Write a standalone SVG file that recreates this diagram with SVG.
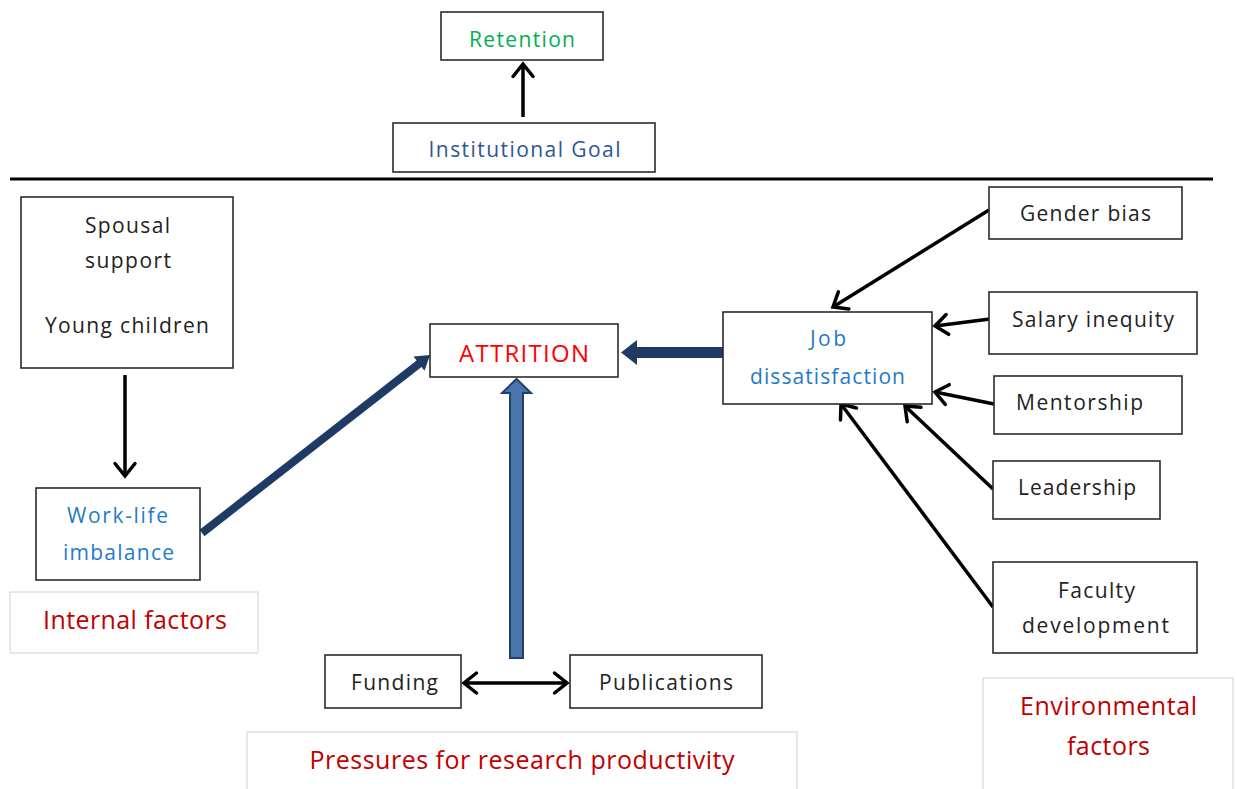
<svg xmlns="http://www.w3.org/2000/svg" width="1237" height="789" viewBox="0 0 1237 789">
<style>
  .box{fill:#fff;stroke:#2b2b2b;stroke-width:1.6}
  .lbl{fill:#fff;stroke:#d9d9d9;stroke-width:1.2}
  text{font-family:"Open Sans","Noto Sans","Liberation Sans",sans-serif;text-anchor:middle;font-weight:500}
  .t{font-size:21px;fill:#222}
  .blue{font-size:21px;fill:#1f7bc8}
  .red{font-size:25px;fill:#c00000}
  .conn{stroke:#000;stroke-width:3.5;fill:none;marker-end:url(#open)}
</style>
<defs>
  <marker id="open" markerUnits="userSpaceOnUse" markerWidth="26" markerHeight="28" refX="16" refY="13" orient="auto-start-reverse">
    <path d="M3.5,3 L16,13 L3.5,23" fill="none" stroke="#000" stroke-width="3.5" stroke-linecap="round" stroke-linejoin="miter"/>
  </marker>
</defs>

<line x1="10" y1="179" x2="1213" y2="179" stroke="#000" stroke-width="3"/>

<g id="connectors">
  <line class="conn" x1="523" y1="117" x2="523" y2="64"/>
  <line class="conn" x1="125" y1="375" x2="125" y2="476"/>
  <line class="conn" x1="464" y1="683" x2="567" y2="683" marker-start="url(#open)"/>
  <line class="conn" x1="989" y1="210" x2="833" y2="307"/>
  <line class="conn" x1="990" y1="319" x2="935" y2="326"/>
  <line class="conn" x1="994" y1="404" x2="935" y2="392"/>
  <line class="conn" x1="993" y1="489" x2="905" y2="406"/>
  <line class="conn" x1="993" y1="607" x2="841" y2="404"/>
  <polygon points="723,347 637,347 637,340 621,352.5 637,365 637,358 723,358" fill="#1f3a63"/>
  <line x1="202" y1="533" x2="420" y2="363" stroke="#1f3a63" stroke-width="8"/>
  <polygon points="430,355 424.5,370.7 413.5,356.5" fill="#1f3a63"/>
  <polygon points="510,658 510,393 502,393 516.5,379 531,393 523,393 523,658" fill="#4a74ac" stroke="#23406a" stroke-width="2"/>
</g>

<g id="retention">
  <rect class="box" x="441" y="12" width="162" height="48"/>
  <text x="522" y="47" style="font-size:21px;fill:#00b050" textLength="106" lengthAdjust="spacing">Retention</text>
</g>
<g id="institutional-goal">
  <rect class="box" x="393" y="123" width="262" height="49"/>
  <text x="524.5" y="157" style="font-size:21px;fill:#2f5597" textLength="192" lengthAdjust="spacing">Institutional Goal</text>
</g>

<g id="spousal">
  <rect class="box" x="21" y="197" width="212" height="171"/>
  <text class="t" x="127.5" y="233" textLength="85" lengthAdjust="spacing">Spousal</text>
  <text class="t" x="128" y="268" textLength="86" lengthAdjust="spacing">support</text>
  <text class="t" x="127" y="333" textLength="164" lengthAdjust="spacing">Young children</text>
</g>
<g id="work-life">
  <rect class="box" x="36" y="488" width="164" height="92"/>
  <text class="blue" x="117.5" y="523" textLength="101" lengthAdjust="spacing">Work-life</text>
  <text class="blue" x="118.5" y="560" textLength="111" lengthAdjust="spacing">imbalance</text>
</g>
<g id="internal-factors">
  <rect class="lbl" x="10" y="592" width="248" height="61"/>
  <text class="red" x="135" y="629" textLength="184" lengthAdjust="spacing">Internal factors</text>
</g>

<g id="attrition">
  <rect class="box" x="430" y="324" width="188" height="53"/>
  <text x="524" y="362" style="font-size:24px;fill:#ff0000" textLength="130" lengthAdjust="spacing">ATTRITION</text>
</g>
<g id="job-dissatisfaction">
  <rect class="box" x="723" y="312" width="209" height="92"/>
  <text class="blue" x="828" y="346" textLength="36" lengthAdjust="spacing">Job</text>
  <text class="blue" x="827.5" y="384" textLength="155" lengthAdjust="spacing">dissatisfaction</text>
</g>

<g id="funding">
  <rect class="box" x="325" y="655" width="136" height="53"/>
  <text class="t" x="394.5" y="690" textLength="87" lengthAdjust="spacing">Funding</text>
</g>
<g id="publications">
  <rect class="box" x="570" y="655" width="192" height="53"/>
  <text class="t" x="666" y="690" textLength="134" lengthAdjust="spacing">Publications</text>
</g>
<g id="pressures">
  <rect class="lbl" x="247" y="732" width="550" height="60"/>
  <text class="red" x="522" y="769" textLength="425" lengthAdjust="spacing">Pressures for research productivity</text>
</g>

<g id="gender-bias">
  <rect class="box" x="989" y="187" width="193" height="52"/>
  <text class="t" x="1085.5" y="221" textLength="131" lengthAdjust="spacing">Gender bias</text>
</g>
<g id="salary-inequity">
  <rect class="box" x="989" y="292" width="208" height="62"/>
  <text class="t" x="1093" y="327" textLength="162" lengthAdjust="spacing">Salary inequity</text>
</g>
<g id="mentorship">
  <rect class="box" x="994" y="376" width="188" height="58"/>
  <text class="t" x="1079.5" y="410" textLength="127" lengthAdjust="spacing">Mentorship</text>
</g>
<g id="leadership">
  <rect class="box" x="993" y="461" width="167" height="58"/>
  <text class="t" x="1077" y="495" textLength="118" lengthAdjust="spacing">Leadership</text>
</g>
<g id="faculty-development">
  <rect class="box" x="993" y="562" width="204" height="91"/>
  <text class="t" x="1096.5" y="598" textLength="77" lengthAdjust="spacing">Faculty</text>
  <text class="t" x="1095.5" y="633" textLength="147" lengthAdjust="spacing">development</text>
</g>
<g id="environmental-factors">
  <rect class="lbl" x="983" y="678" width="250" height="115"/>
  <text class="red" x="1108.5" y="715" textLength="177" lengthAdjust="spacing">Environmental</text>
  <text class="red" x="1108.5" y="755" textLength="83" lengthAdjust="spacing">factors</text>
</g>
</svg>
